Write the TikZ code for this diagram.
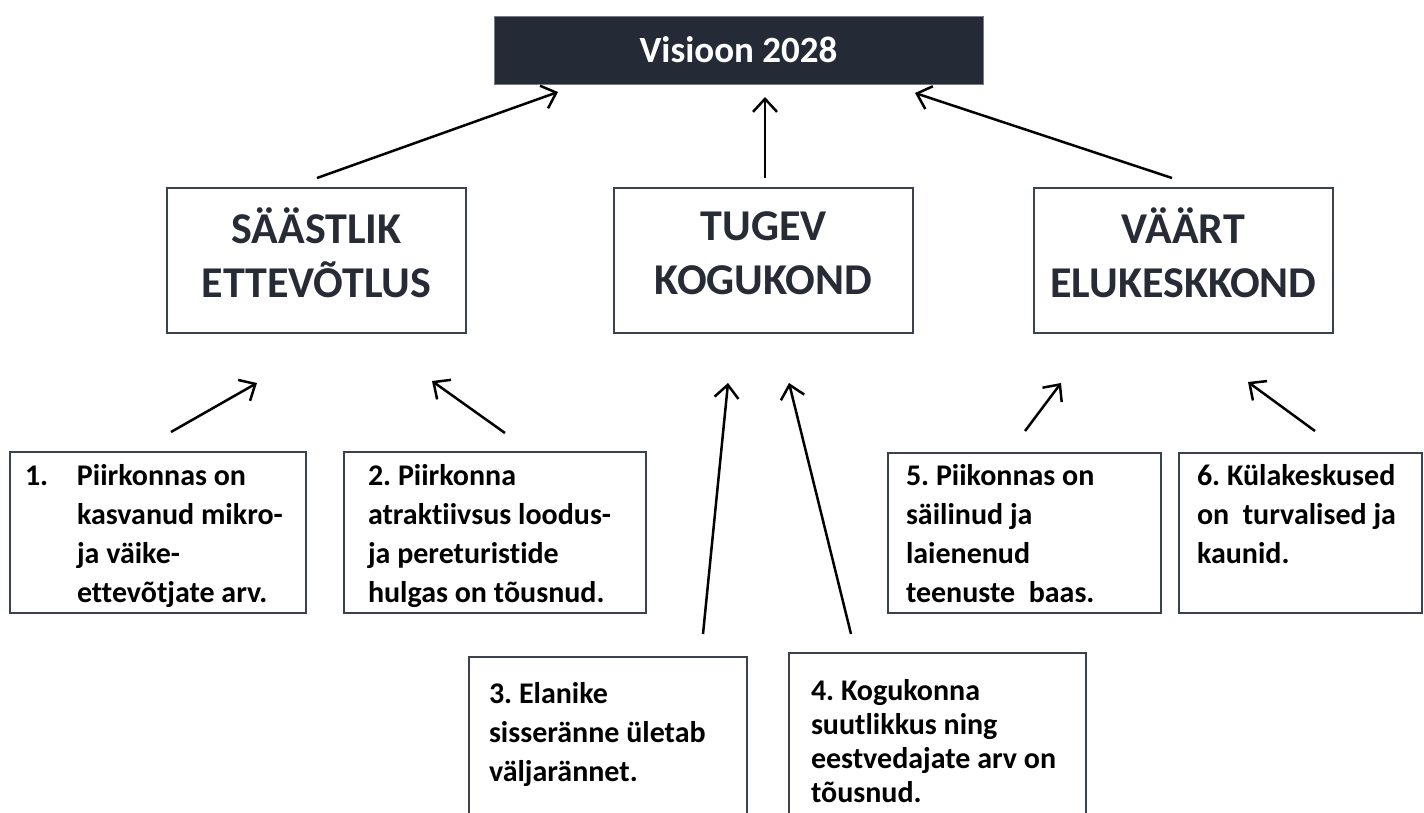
\documentclass[tikz,border=0pt]{standalone}
\usepackage{fontspec}
\setmainfont{Carlito}[Ligatures=NoCommon]
\usetikzlibrary{arrows.meta}
\definecolor{navy}{HTML}{252B36}
\definecolor{frame}{HTML}{3A4150}
\definecolor{headtxt}{HTML}{262B35}
\frenchspacing
\begin{document}
\begin{tikzpicture}[x=1pt,y=-1pt,
  box/.style={draw=frame, line width=1.8pt, inner sep=0pt, outer sep=0pt, anchor=north west},
  visbox/.style={fill=navy, draw=frame!70, line width=0.8pt, inner sep=0pt, outer sep=0pt, anchor=north west,
     text=white, font=\bfseries\fontsize{37}{44}\selectfont},
  midbox/.style={box, minimum width=299pt, minimum height=145pt},
  midtxt/.style={inner sep=0pt, outer sep=0pt, anchor=north, align=center, text=headtxt,
     font=\bfseries\fontsize{44}{54}\selectfont},
  lowtxt/.style={inner sep=0pt, outer sep=0pt, anchor=north west, align=left, text=black,
     font=\bfseries\fontsize{30}{39}\selectfont},
  arr/.style={line width=2.5pt, black, -{Straight Barb[length=13pt,width=24pt,line width=2.5pt]}}
]
\useasboundingbox (0,0) rectangle (1424,812);
\newcommand{\fl}{\rule{0pt}{25pt}}
\newcommand{\fm}{\rule{0pt}{32pt}}

% top
\node[visbox, minimum width=489pt, minimum height=68pt] (vis) at (494,16) {Visioon 2028};

% middle
\node[midbox] (m1) at (167,188) {};
\node[midbox] (m2) at (614,188) {};
\node[midbox] (m3) at (1034,188) {};
\node[midtxt] (mt1) at ([yshift=-20pt]m1.north) {\fm SÄÄSTLIK\\ETTEVÕTLUS};
\node[midtxt] (mt2) at ([yshift=-20pt]m2.north) {\fm TUGEV\\KOGUKOND};
\node[midtxt] (mt3) at ([yshift=-20pt]m3.north) {\fm VÄÄRT\\ELUKESKKOND};

% lower boxes
\node[box, minimum width=296pt, minimum height=161pt] (b1) at (10,452) {};
\node[box, minimum width=302pt, minimum height=161pt] (b2) at (344,452) {};
\node[box, minimum width=278pt, minimum height=170pt] (b3) at (469,657) {};
\node[box, minimum width=297pt, minimum height=175pt] (b4) at (789,653) {};
\node[box, minimum width=273pt, minimum height=160pt] (b5) at (888,453) {};
\node[box, minimum width=243pt, minimum height=160pt] (b6) at (1179,453) {};

\node[lowtxt] (t1) at (25,460) {\fl\makebox[52pt][l]{1.}Piirkonnas on\\\hspace*{52pt}kasvanud mikro-\\\hspace*{52pt}ja väike-\\\hspace*{52pt}ettevõtjate arv.};
\node[lowtxt] (t2) at (368,460) {\fl 2. Piirkonna\\atraktiivsus loodus-\\ja pereturistide\\hulgas on tõusnud.};
\node[lowtxt] (t3) at (489,678) {\fl 3. Elanike\\sisseränne ületab\\väljarännet.};
\node[lowtxt, font=\bfseries\fontsize{30}{34}\selectfont] (t4) at (811,675) {\fl 4. Kogukonna\\suutlikkus ning\\eestvedajate arv on\\tõusnud.};
\node[lowtxt] (t5) at (906,460) {\fl 5. Piikonnas on\\säilinud ja\\laienenud\\teenuste\ \ baas.};
\node[lowtxt] (t6) at (1197,460) {\fl 6. Külakeskused\\on\ \ turvalised ja\\kaunid.};

% arrow end points
\coordinate (s1) at (317,178);  \coordinate (e1) at (558,92);
\coordinate (s2) at (765,178);  \coordinate (e2) at (765,97);
\coordinate (s3) at (1172,178); \coordinate (e3) at (915,93);
\coordinate (s4) at (171,432);  \coordinate (e4) at (257,383);
\coordinate (s5) at (505,433);  \coordinate (e5) at (432,381);
\coordinate (s6) at (703,634);  \coordinate (e6) at (728,383);
\coordinate (s7) at (851,634);  \coordinate (e7) at (789,383);
\coordinate (s8) at (1025,431); \coordinate (e8) at (1061,383);
\coordinate (s9) at (1315,431); \coordinate (e9) at (1248,382);

\foreach \i in {1,...,9} {\draw[arr] (s\i) -- (e\i);}
\end{tikzpicture}
\end{document}
